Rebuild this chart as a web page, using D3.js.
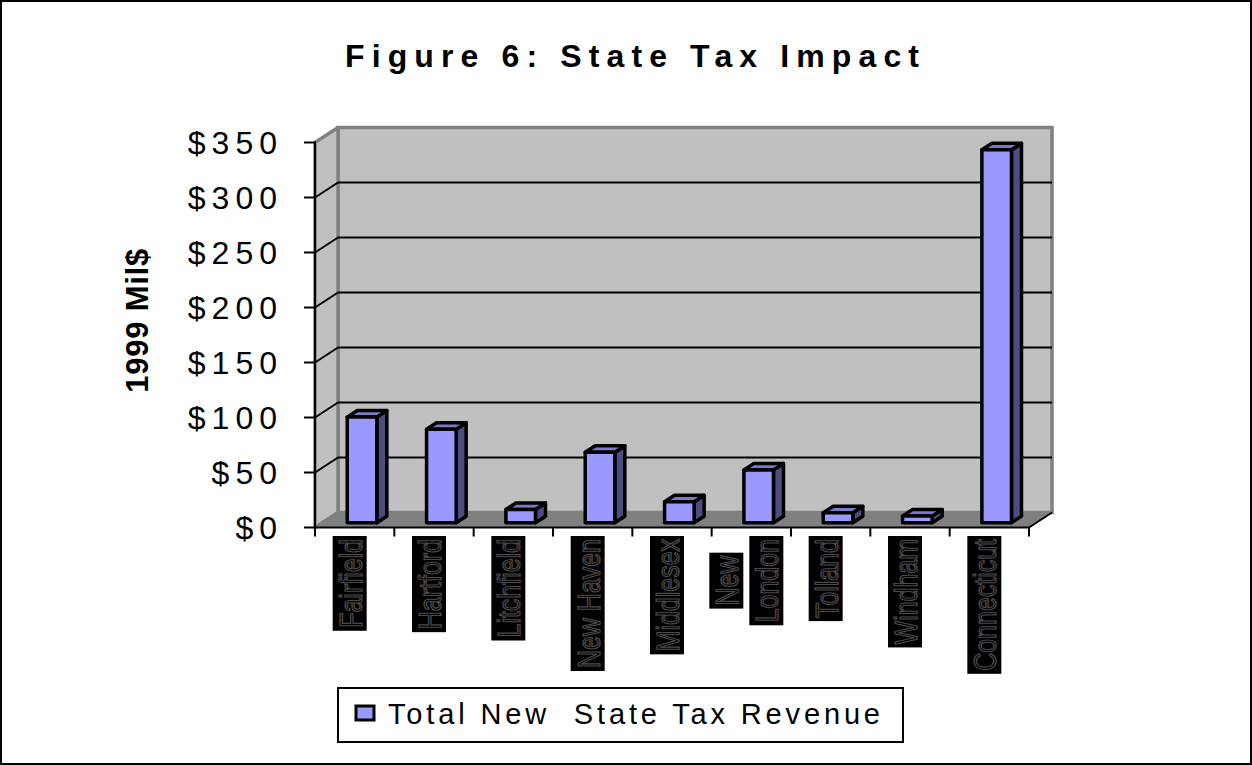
<!DOCTYPE html>
<html>
<head>
<meta charset="utf-8">
<script src="https://cdn.jsdelivr.net/npm/d3@7"></script>
<style>
  html, body { margin: 0; padding: 0; background: #fff; }
  svg { display: block; font-family: "Liberation Sans", Arial, sans-serif; }
</style>
</head>
<body>
<svg id="chart" width="1252" height="765"></svg>
<script>
// ---------------- data ----------------
const title = "Figure 6: State Tax Impact";
const yAxisTitle = "1999 Mil$";
const seriesName = "Total New  State Tax Revenue";
const categories = ["Fairfield", "Hartford", "Litchfield", "New Haven", "Middlesex",
                    "New London", "Tolland", "Windham", "Connecticut"];
const revenue = [96, 85, 12, 64, 19, 48, 9, 6, 339];
const yTicks = [0, 50, 100, 150, 200, 250, 300, 350];
const yTickLabels = ["$0", "$50", "$100", "$150", "$200", "$250", "$300", "$350"];
const wrappedLabels = { "New London": ["New", "London"] };

// ---------------- layout ----------------
const W = 1252, H = 765;
const plot = { left: 315, right: 1029, bottom: 527.5, top: 142.5 };
const depth = { dx: 23, dy: -15 };
const barFront = 0.32, barBack = 0.755, barRatio = 0.373;
const colors = { wall: "#c0c0c0", wallEdge: "#808080", floor: "#808080",
                 front: "#9999ff", side: "#4d4d80", top: "#7a7acc" };

const svg = d3.select("#chart");
svg.append("rect").attr("x", 1).attr("y", 1).attr("width", W - 2).attr("height", H - 2)
   .attr("fill", "#fff").attr("stroke", "#000").attr("stroke-width", 2);

const x = d3.scaleBand().domain(categories).range([plot.left, plot.right]).padding(0);
const y = d3.scaleLinear().domain([0, 350]).range([plot.bottom, plot.top]);
const step = x.step();

// helper: fit letter-spacing so ink width matches target
function fitSpacing(sel, target) {
  const node = sel.node();
  const n = sel.text().length;
  const nat = node.getComputedTextLength();
  const ls = (target - nat) / Math.max(1, n - 1);
  sel.attr("letter-spacing", ls);
  return ls;
}

// ---------------- walls ----------------
const y0 = y(0), yTop = y(350);
svg.append("rect")
  .attr("x", plot.left + depth.dx).attr("y", yTop + depth.dy)
  .attr("width", plot.right - plot.left).attr("height", y0 - yTop)
  .attr("fill", colors.wall).attr("stroke", colors.wallEdge).attr("stroke-width", 3.5);
svg.append("polygon")
  .attr("points", [[plot.left, y0], [plot.left, yTop], [plot.left + depth.dx, yTop + depth.dy],
                   [plot.left + depth.dx, y0 + depth.dy]].map(p => p.join(",")).join(" "))
  .attr("fill", colors.wall).attr("stroke", colors.wallEdge).attr("stroke-width", 3.5)
  .attr("stroke-linejoin", "round");
svg.append("polygon")
  .attr("points", [[plot.left, y0], [plot.left + depth.dx, y0 + depth.dy],
                   [plot.right + depth.dx, y0 + depth.dy], [plot.right, y0]].map(p => p.join(",")).join(" "))
  .attr("fill", colors.floor);

// gridlines
const grid = yTicks.filter(v => v > 0 && v < 350);
svg.append("g").selectAll("line").data(grid).join("line")
  .attr("x1", plot.left + depth.dx).attr("x2", plot.right + depth.dx)
  .attr("y1", d => y(d) + depth.dy).attr("y2", d => y(d) + depth.dy)
  .attr("stroke", "#000").attr("stroke-width", 2);
svg.append("g").selectAll("line").data(grid).join("line")
  .attr("x1", plot.left).attr("x2", plot.left + depth.dx)
  .attr("y1", d => y(d)).attr("y2", d => y(d) + depth.dy)
  .attr("stroke", "#000").attr("stroke-width", 2);

// axes lines
svg.append("line").attr("x1", plot.left).attr("x2", plot.left)
  .attr("y1", yTop - 1).attr("y2", y0 + 9).attr("stroke", "#000").attr("stroke-width", 2);
svg.append("line").attr("x1", plot.left).attr("x2", plot.right)
  .attr("y1", y0).attr("y2", y0).attr("stroke", "#000").attr("stroke-width", 2);
svg.append("line").attr("x1", plot.right).attr("x2", plot.right + depth.dx)
  .attr("y1", y0).attr("y2", y0 + depth.dy).attr("stroke", "#000").attr("stroke-width", 2);

// y ticks and labels
const yG = svg.append("g");
yG.selectAll("line").data(yTicks).join("line")
  .attr("x1", plot.left - 11).attr("x2", plot.left)
  .attr("y1", d => y(d)).attr("y2", d => y(d))
  .attr("stroke", "#000").attr("stroke-width", 2);
yG.selectAll("text").data(yTicks).join("text")
  .attr("x", 277 + 6).attr("y", d => y(d)).attr("dy", "0.35em")
  .attr("text-anchor", "end").attr("font-size", 32).attr("letter-spacing", 6)
  .attr("fill", "#000")
  .text((d, i) => yTickLabels[i]);

// x ticks (band boundaries)
const bounds = categories.map(c => x(c)).concat([plot.right]).slice(1);
svg.append("g").selectAll("line").data(bounds).join("line")
  .attr("x1", d => d).attr("x2", d => d)
  .attr("y1", y0).attr("y2", y0 + 9)
  .attr("stroke", "#000").attr("stroke-width", 2);

// ---------------- bars ----------------
const bw = step * barRatio;
const ddx = (barBack - barFront) * depth.dx, ddy = (barBack - barFront) * depth.dy;
const bars = svg.append("g").selectAll("g").data(categories.map((c, i) => ({ c, v: revenue[i] }))).join("g");
function geom(d) {
  const xl = x(d.c) + (step - bw) / 2 + barFront * depth.dx;
  const xr = xl + bw;
  const yb = y(0) + barFront * depth.dy;
  const yt = y(d.v) + barFront * depth.dy;
  return { xl, xr, yb, yt };
}
const pts = a => a.map(p => p.join(",")).join(" ");
bars.append("polygon").attr("points", d => { const g = geom(d);
    return pts([[g.xr, g.yt], [g.xr + ddx, g.yt + ddy], [g.xr + ddx, g.yb + ddy], [g.xr, g.yb]]); })
  .attr("fill", colors.side);
bars.append("polygon").attr("points", d => { const g = geom(d);
    return pts([[g.xl, g.yt], [g.xl + ddx, g.yt + ddy], [g.xr + ddx, g.yt + ddy], [g.xr, g.yt]]); })
  .attr("fill", colors.top);
bars.append("rect").attr("x", d => geom(d).xl).attr("y", d => geom(d).yt)
  .attr("width", bw).attr("height", d => geom(d).yb - geom(d).yt)
  .attr("fill", colors.front);
bars.selectAll("polygon, rect").attr("stroke", "#000").attr("stroke-width", 3.5)
  .attr("stroke-linejoin", "round");

// ---------------- category labels ----------------
const labelTop = 536, labelScale = 0.78, boxW = 34, linePitch = 40;
const labG = svg.append("g");
categories.forEach(c => {
  const lines = wrappedLabels[c] || [c];
  const groupCx = x(c) + step / 2 - 5;
  const items = lines.map((t, k) => {
    const tx = labG.append("text").attr("font-size", 32).text(t);
    const len = tx.node().getComputedTextLength() * labelScale;
    return { t, k, tx, len };
  });
  const maxLen = d3.max(items, d => d.len);
  const centerY = labelTop + (maxLen + 6) / 2;
  items.forEach(it => {
    const cx = groupCx + (it.k - (lines.length - 1) / 2) * linePitch;
    const h = it.len + 6;
    const top = centerY - h / 2;
    labG.insert("rect", "text").attr("x", cx - boxW / 2).attr("y", top)
      .attr("width", boxW).attr("height", h).attr("fill", "#000");
    it.tx.attr("transform", `translate(${cx + 12},${top + 3}) rotate(-90) scale(${labelScale},1)`)
      .attr("text-anchor", "end").attr("fill", "#000")
      .attr("stroke", "#4a4a4a").attr("stroke-width", 1.3);
  });
});

// ---------------- titles ----------------
const t = svg.append("text").attr("x", 632).attr("y", 66.7).attr("text-anchor", "middle")
  .attr("font-size", 32).attr("font-weight", "bold").text(title);
const tls = fitSpacing(t, 574);
t.attr("x", 632 + tls / 2);

const yt = svg.append("text").attr("font-size", 31).attr("font-weight", "bold")
  .attr("text-anchor", "middle").text(yAxisTitle);
const yls = fitSpacing(yt, 144);
yt.attr("transform", `translate(148,${320 + yls / 2}) rotate(-90)`);

// ---------------- legend ----------------
const lg = svg.append("g");
lg.append("rect").attr("x", 338).attr("y", 688).attr("width", 565).attr("height", 54)
  .attr("fill", "#fff").attr("stroke", "#000").attr("stroke-width", 2);
lg.append("rect").attr("x", 356).attr("y", 706).attr("width", 18).attr("height", 14)
  .attr("fill", colors.front).attr("stroke", "#000").attr("stroke-width", 3);
const lt = lg.append("text").attr("x", 388).attr("y", 724).attr("font-size", 29)
  .attr("xml:space", "preserve").style("white-space", "pre").text(seriesName);
fitSpacing(lt, 492);
</script>
</body>
</html>
